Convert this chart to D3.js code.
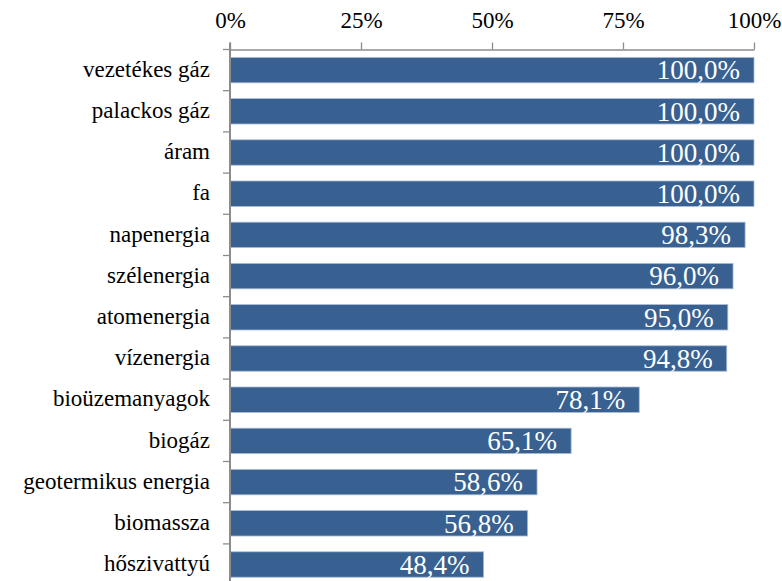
<!DOCTYPE html>
<html>
<head>
<meta charset="utf-8">
<script src="https://cdn.jsdelivr.net/npm/d3@7"></script>
<style>
  html, body { margin: 0; padding: 0; background: #fff; }
  svg { display: block; }
</style>
</head>
<body>
<svg id="chart" width="782" height="581"></svg>
<script>
const categories = ["vezetékes gáz", "palackos gáz", "áram", "fa", "napenergia", "szélenergia", "atomenergia", "vízenergia", "bioüzemanyagok", "biogáz", "geotermikus energia", "biomassza", "hőszivattyú"];
const values = [100.0, 100.0, 100.0, 100.0, 98.3, 96.0, 95.0, 94.8, 78.1, 65.1, 58.6, 56.8, 48.4];
const tickValues = [0, 25, 50, 75, 100];

(function () {
const svg = d3.select("#chart");
const FONT = '"Times New Roman", serif';
const mLeft = 230, mRight = 754, mTop = 49.5, step = 41.2;
const x = d3.scaleLinear().domain([0, 100]).range([mLeft, mRight]);
const y = d3.scaleBand().domain(categories).range([mTop, mTop + step * categories.length]).paddingInner(0.383).paddingOuter(0.1915);

const axisColor = "#8c8c8c";

// top axis
const gx = svg.append("g").attr("transform", `translate(0,${mTop})`)
  .call(d3.axisTop(x).tickValues(tickValues).tickFormat(d => d + "%").tickSize(7).tickSizeOuter(0).tickPadding(0));
gx.attr("font-family", null).attr("font-size", null);
gx.select(".domain").attr("stroke", axisColor).attr("stroke-width", 1.3);
gx.selectAll(".tick line").attr("stroke", axisColor).attr("stroke-width", 1.3);
gx.selectAll(".tick text")
  .style("font-family", FONT)
  .style("font-size", "23px").attr("fill", "#000")
  .attr("y", 28.3 - mTop).attr("dy", null);

// bars
svg.append("g").selectAll("rect").data(categories).join("rect")
  .attr("x", x(0))
  .attr("y", d => y(d))
  .attr("width", (d, i) => x(values[i]) - x(0))
  .attr("height", y.bandwidth())
  .attr("fill", "#386191")
  .attr("stroke", "#a9bcd6")
  .attr("stroke-width", 0.8);

// left axis
const yTicks = d3.range(categories.length + 1).map(i => mTop + i * step);
const gy = svg.append("g");
gy.append("line").attr("x1", mLeft).attr("x2", mLeft).attr("y1", mTop - 7).attr("y2", 600)
  .attr("stroke", axisColor).attr("stroke-width", 2);
gy.selectAll("line.t").data(yTicks).join("line").attr("class", "t")
  .attr("x1", mLeft - 7).attr("x2", mLeft).attr("y1", d => d).attr("y2", d => d)
  .attr("stroke", axisColor).attr("stroke-width", 1.3);
gy.selectAll("text").data(categories).join("text")
  .attr("x", mLeft - 20)
  .attr("y", d => y(d) + y.bandwidth() / 2 + 6.6)
  .attr("text-anchor", "end")
  .style("font-family", FONT)
  .style("font-size", "23px").attr("fill", "#000")
  .text(d => d);

// value labels
svg.append("g").selectAll("text").data(categories).join("text")
  .attr("x", (d, i) => x(values[i]) - 14)
  .attr("y", d => y(d) + y.bandwidth() / 2 + 9.2)
  .attr("text-anchor", "end")
  .style("font-family", FONT)
  .style("font-size", "27px").attr("fill", "#fff")
  .text((d, i) => values[i].toFixed(1).replace(".", ",") + "%");
})();
</script>
</body>
</html>
